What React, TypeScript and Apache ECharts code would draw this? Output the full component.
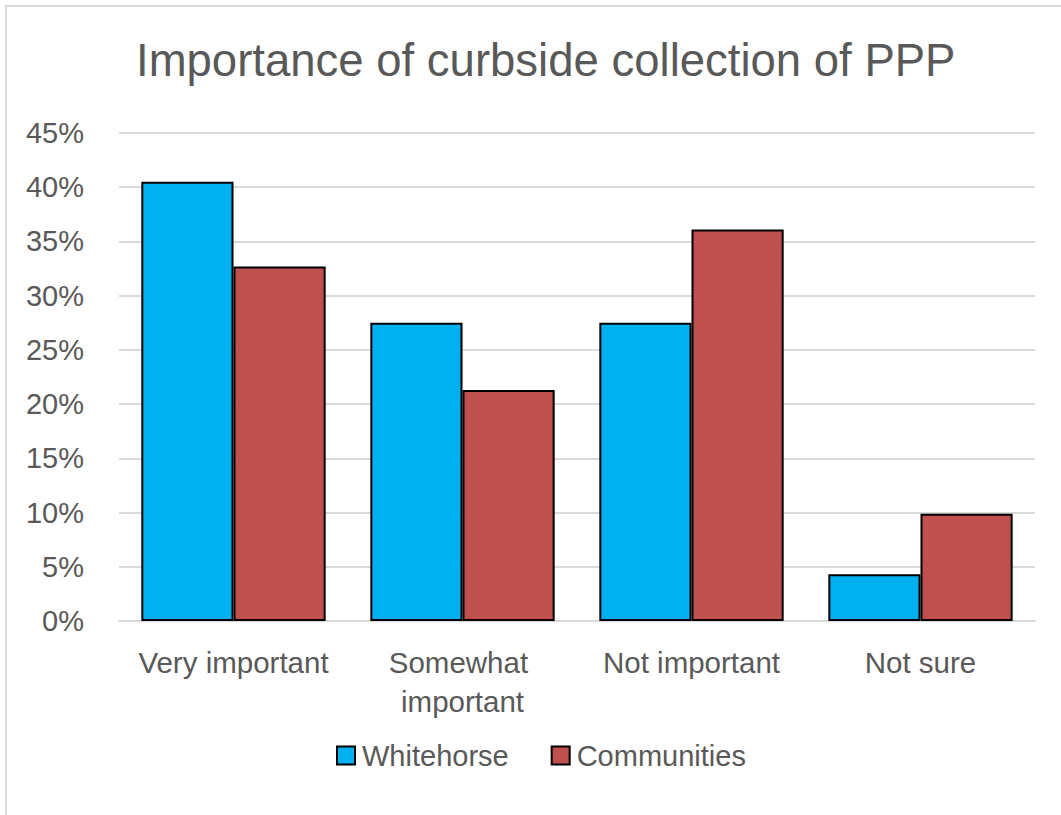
import React, { useEffect, useRef } from "react";
import * as echarts from "echarts";

const categories = ["Very important", "Somewhat important", "Not important", "Not sure"];
const whitehorse = [40.5, 27.5, 27.5, 4.3];
const communities = [32.7, 21.3, 36.1, 9.9];
const seriesNames = ["Whitehorse", "Communities"];
const titleText = "Importance of curbside collection of PPP";

const FONT = "'Liberation Sans', Arial, sans-serif";

export default function App() {
  const ref = useRef<HTMLDivElement>(null);
  useEffect(() => {
    if (!ref.current) return;
    const chart = echarts.init(ref.current, null, { renderer: "svg" });
    chart.setOption({
      animation: false,
      backgroundColor: "#ffffff",
      textStyle: { fontFamily: FONT },
      graphic: [
        {
          type: "rect",
          shape: { x: 6, y: 6, width: 1200, height: 1000 },
          style: { fill: "none", stroke: "#d9d9d9", lineWidth: 2 },
          silent: true,
          z: -1,
        },
      ],
      title: {
        text: titleText,
        left: 131,
        top: 32,
        textStyle: { fontFamily: FONT, fontSize: 45.5, fontWeight: "normal", color: "#595959" },
      },
      legend: {
        data: seriesNames,
        left: 331,
        top: 736,
        itemWidth: 18,
        itemHeight: 18,
        itemGap: 42,
        icon: "rect",
        textStyle: { fontFamily: FONT, fontSize: 29, color: "#595959", padding: [0, 0, 0, 2] },
      },
      grid: { left: 119, right: 26, top: 133, bottom: 194 },
      xAxis: {
        type: "category",
        data: categories,
        axisLine: { lineStyle: { color: "#d9d9d9", width: 2 } },
        axisTick: { show: false },
        axisLabel: {
          interval: 0,
          fontFamily: FONT,
          fontSize: 29.5,
          color: "#595959",
          margin: 22,
          width: 215,
          overflow: "break",
          lineHeight: 39,
        },
      },
      yAxis: {
        type: "value",
        min: 0,
        max: 45,
        interval: 5,
        axisLine: { show: false },
        axisTick: { show: false },
        splitLine: { lineStyle: { color: "#d9d9d9", width: 2 } },
        axisLabel: {
          formatter: "{value}%",
          fontFamily: FONT,
          fontSize: 29,
          color: "#595959",
          margin: 35,
        },
      },
      series: [
        {
          name: seriesNames[0],
          type: "bar",
          data: whitehorse,
          barGap: "0%",
          barCategoryGap: "19.5%",
          itemStyle: { color: "#00B0F0", borderColor: "#000000", borderWidth: 2 },
        },
        {
          name: seriesNames[1],
          type: "bar",
          data: communities,
          itemStyle: { color: "#C0504D", borderColor: "#000000", borderWidth: 2 },
        },
      ],
    });
    return () => chart.dispose();
  }, []);
  return (
    <div
      ref={ref}
      style={{ position: "fixed", left: 0, top: 0, width: 1061, height: 815 }}
    />
  );
}
